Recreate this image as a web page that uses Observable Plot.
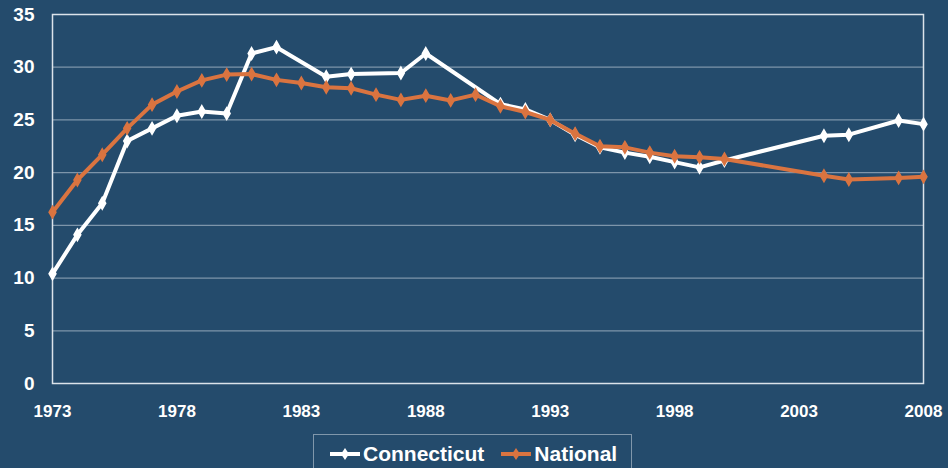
<!DOCTYPE html>
<html>
<head>
<meta charset="utf-8">
<script src="https://cdn.jsdelivr.net/npm/d3@7"></script>
<script src="https://cdn.jsdelivr.net/npm/@observablehq/plot@0.6"></script>
<style>
  html, body { margin: 0; padding: 0; background: #244b6c; }
  body { width: 948px; height: 468px; position: relative; overflow: hidden; font-family: "Liberation Sans", Arial, sans-serif; }
  #chart { position: absolute; left: 0; top: 0; }
  #legend { position: absolute; left: 313px; top: 434px; width: 319px; height: 50px; box-sizing: border-box;
    border: 1px solid #8097ab; display: flex; align-items: flex-start; padding-top: 7px; padding-left: 16px; gap: 0; }
  .item { display: flex; align-items: center; color: #fff; font-weight: bold; font-size: 21px; line-height: 24px; }
  .item svg { margin-right: 3px; }
</style>
</head>
<body>
<div id="chart"></div>
<div id="legend"></div>
<script>
const ctYears = [1973,1974,1975,1976,1977,1978,1979,1980,1981,1982,1984,1985,1987,1988,1991,1992,1993,1994,1995,1996,1997,1998,1999,2000,2004,2005,2007,2008];
const ctValues = [10.4,14.1,17.1,23.0,24.2,25.4,25.8,25.6,31.3,31.9,29.1,29.35,29.45,31.3,26.5,26.0,25.0,23.6,22.4,21.9,21.5,21.0,20.5,21.15,23.5,23.6,24.95,24.6];
const natYears = [1973,1974,1975,1976,1977,1978,1979,1980,1981,1982,1983,1984,1985,1986,1987,1988,1989,1990,1991,1992,1993,1994,1995,1996,1997,1998,1999,2000,2004,2005,2007,2008];
const natValues = [16.25,19.3,21.7,24.2,26.45,27.7,28.75,29.3,29.35,28.8,28.5,28.1,28.0,27.4,26.9,27.3,26.85,27.4,26.3,25.75,25.0,23.7,22.5,22.4,21.9,21.55,21.45,21.3,19.7,19.35,19.5,19.6];
const xTicks = [1973,1978,1983,1988,1993,1998,2003,2008];
const yTicks = [0,5,10,15,20,25,30,35];
const gridValues = [5,10,15,20,25,30];
const seriesNames = ["Connecticut","National"];
const seriesColors = ["#ffffff","#da7440"];

const ct = ctYears.map((y,i) => ({year: y, value: ctValues[i]}));
const nat = natYears.map((y,i) => ({year: y, value: natValues[i]}));

const chart = Plot.plot({
  width: 948,
  height: 428,
  marginLeft: 52,
  marginRight: 25,
  marginTop: 14,
  marginBottom: 45,
  style: {background: "transparent", color: "#ffffff", fontFamily: "'Liberation Sans', Arial, sans-serif", fontWeight: "bold", overflow: "visible"},
  x: {domain: [1973, 2008], label: null},
  y: {domain: [0, 35], label: null},
  marks: [
    Plot.ruleY(gridValues, {stroke: "#7d95aa", strokeWidth: 1.2}),
    Plot.frame({stroke: "#dbe3ea", strokeWidth: 1.5}),
    Plot.axisX({ticks: xTicks, tickFormat: d => String(d), tickSize: 0, tickPadding: 21, fontSize: 17, fill: "#fff"}),
    Plot.axisY({ticks: yTicks, tickSize: 0, tickPadding: 18, fontSize: 19, fill: "#fff"}),
    Plot.line(ct, {x: "year", y: "value", stroke: seriesColors[0], strokeWidth: 4, strokeLinejoin: "miter"}),
    Plot.dot(ct, {x: "year", y: "value", symbol: "diamond", r: 3.6, fill: seriesColors[0], stroke: seriesColors[0], strokeWidth: 1.5}),
    Plot.line(nat, {x: "year", y: "value", stroke: seriesColors[1], strokeWidth: 4, strokeLinejoin: "miter"}),
    Plot.dot(nat, {x: "year", y: "value", symbol: "diamond", r: 3.6, fill: seriesColors[1], stroke: seriesColors[1], strokeWidth: 1.5})
  ]
});
document.getElementById("chart").appendChild(chart);

const legend = document.getElementById("legend");
seriesNames.forEach((name, i) => {
  const item = document.createElement("div");
  item.className = "item";
  if (i > 0) item.style.marginLeft = "17px";
  const c = seriesColors[i];
  item.innerHTML = `<svg width="30" height="14" viewBox="0 0 30 14"><line x1="0" y1="7" x2="30" y2="7" stroke="${c}" stroke-width="4"/><path d="M15,1 L19,7 L15,13 L11,7 Z" fill="${c}"/></svg><span>${name}</span>`;
  legend.appendChild(item);
});
</script>
</body>
</html>
